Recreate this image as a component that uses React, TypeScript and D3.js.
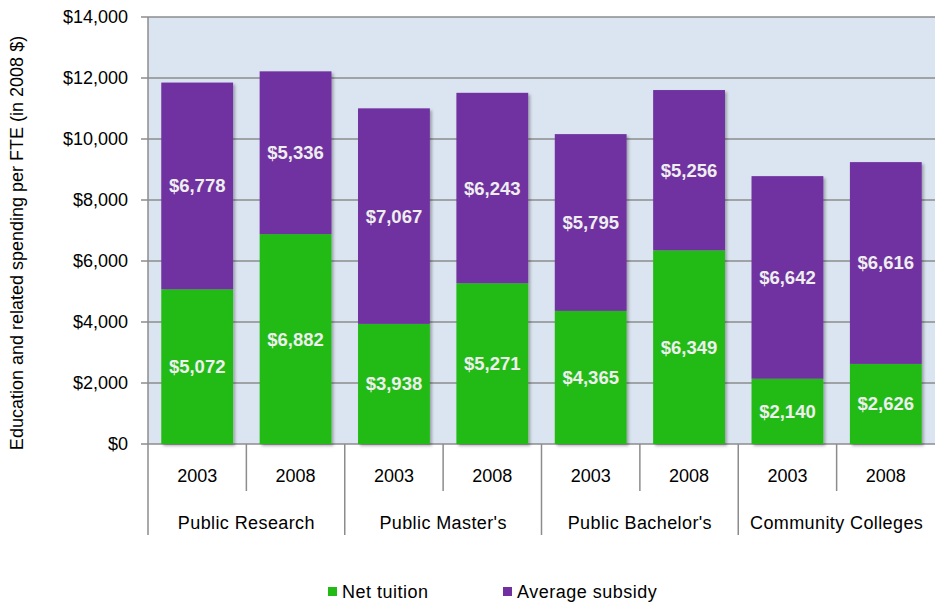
import React from 'react';
import * as d3 from 'd3';

const groups = ['Public Research', "Public Master's", "Public Bachelor's", 'Community Colleges'];
const years = ['2003', '2008'];
const netTuition = [5072, 6882, 3938, 5271, 4365, 6349, 2140, 2626];
const avgSubsidy = [6778, 5336, 7067, 6243, 5795, 5256, 6642, 6616];
const yTicks = [0, 2000, 4000, 6000, 8000, 10000, 12000, 14000];

const GREEN = '#22bb14';
const PURPLE = '#7030a0';
const FONT = '"Liberation Sans", Arial, sans-serif';

export default function App() {
  const W = 935, H = 604;
  const left = 148, right = 935, top = 17, bottom = 444;

  const slots = groups.flatMap((g, gi) => years.map(y => `${gi}-${y}`));
  const x = d3.scaleBand().domain(slots).range([left, right]).paddingInner(0.27).paddingOuter(0.135);
  const slotW = (right - left) / slots.length;
  const y = d3.scaleLinear().domain([0, 14000]).range([bottom, top]);
  const fmt = d3.format('$,');

  return (
    <svg width={W} height={H} style={{ position: 'absolute', left: 0, top: 0, fontFamily: FONT }}>
      <defs>
        <filter id="sh" x="-10%" y="-10%" width="130%" height="130%">
          <feDropShadow dx="2" dy="2" stdDeviation="1.5" floodColor="#000" floodOpacity="0.3" />
        </filter>
      </defs>
      <rect x={left} y={top} width={right - left} height={bottom - top} fill="#dbe5f1" />
      {yTicks.map(t => (
        <g key={t}>
          <line x1={left - 7} x2={right} y1={y(t)} y2={y(t)} stroke="#8c8c8c" strokeWidth={1.5} />
          <text x={left - 20} y={y(t)} dy="0.35em" textAnchor="end" fontSize={18} fill="#000">{fmt(t)}</text>
        </g>
      ))}
      {slots.map((s, i) => {
        const bx = x(s)!;
        const bw = x.bandwidth();
        const y0 = y(0), y1 = y(netTuition[i]), y2 = y(netTuition[i] + avgSubsidy[i]);
        return (
          <g key={s}>
            <g filter="url(#sh)">
              <rect x={bx} y={y1} width={bw} height={y0 - y1} fill={GREEN} />
              <rect x={bx} y={y2} width={bw} height={y1 - y2} fill={PURPLE} />
            </g>
            <text x={bx + bw / 2} y={(y0 + y1) / 2} dy="0.35em" textAnchor="middle" fontSize={18.5} fontWeight="bold" fill="#eeeeee">{fmt(netTuition[i])}</text>
            <text x={bx + bw / 2} y={(y1 + y2) / 2} dy="0.35em" textAnchor="middle" fontSize={18.5} fontWeight="bold" fill="#eeeeee">{fmt(avgSubsidy[i])}</text>
            <text x={left + slotW * (i + 0.5)} y={476} dy="0.35em" textAnchor="middle" fontSize={18} fill="#000">{s.split('-')[1]}</text>
          </g>
        );
      })}
      <line x1={left} x2={left} y1={top} y2={535} stroke="#8c8c8c" strokeWidth={1.5} />
      {slots.map((s, i) => i === 0 ? null : (
        <line key={s} x1={left + slotW * i} x2={left + slotW * i} y1={bottom} y2={i % 2 === 0 ? 535 : 491} stroke="#8c8c8c" strokeWidth={1.5} />
      ))}
      {groups.map((g, gi) => (
        <text key={g} x={left + slotW * (gi * 2 + 1)} y={523} dy="0.35em" textAnchor="middle" fontSize={18} letterSpacing={0.4} fill="#000">{g}</text>
      ))}
      <text transform={`translate(23,243) rotate(-90)`} textAnchor="middle" fontSize={18} fill="#000">Education and related spending per FTE (in 2008 $)</text>
      <rect x={328} y={587} width={9} height={9} fill={GREEN} />
      <text x={342} y={592} dy="0.35em" fontSize={18} letterSpacing={0.5} fill="#000">Net tuition</text>
      <rect x={503} y={587} width={9} height={9} fill={PURPLE} />
      <text x={517} y={592} dy="0.35em" fontSize={18} letterSpacing={0.5} fill="#000">Average subsidy</text>
    </svg>
  );
}
